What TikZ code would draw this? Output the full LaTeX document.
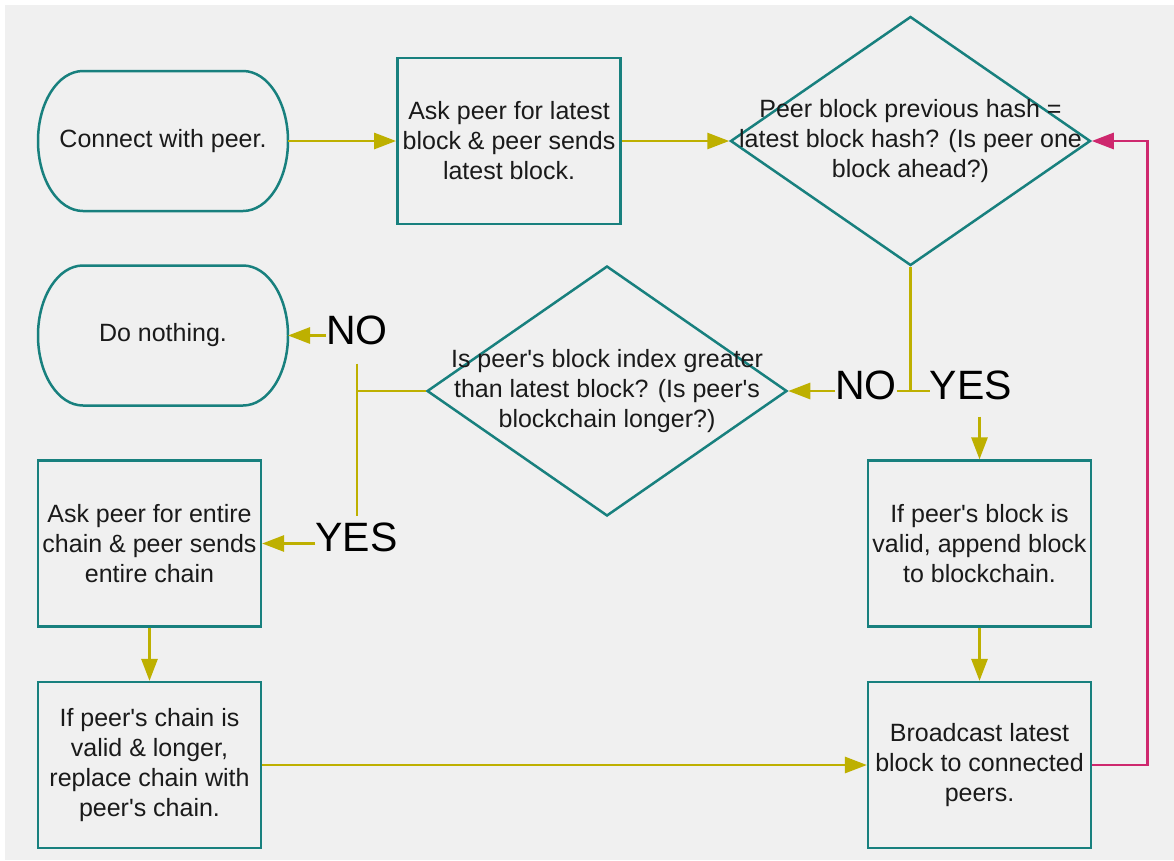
\documentclass[tikz,border=0pt]{standalone}
\usepackage{fontspec}
\setmainfont{Liberation Sans}[Ligatures=TeXOff]
\usetikzlibrary{shapes.geometric,arrows.meta}
\definecolor{bg}{HTML}{F0F0F0}
\definecolor{tealb}{RGB}{24,128,126}
\definecolor{olive}{RGB}{190,176,0}
\definecolor{mag}{RGB}{206,40,110}
\definecolor{txt}{HTML}{1A1A1A}
\begin{document}
\begin{tikzpicture}[x=1pt,y=1pt,
 txtf/.style={font=\fontsize{25}{30}\selectfont, text=txt, align=center},
 boxn/.style={txtf, rectangle, draw=tealb, line width=2.2pt, minimum width=223pt, minimum height=166pt, inner sep=0pt},
 termn/.style={txtf, rectangle, minimum width=250pt, minimum height=140pt, inner sep=0pt, outer sep=0pt},
 decn/.style={diamond, draw=tealb, line width=2.5pt, minimum width=360pt, minimum height=249pt, inner sep=0pt},
 lab/.style={font=\fontsize{41}{41}\selectfont, text=black, inner sep=0pt},
 line/.style={draw=olive, line width=2.8pt},
 arr/.style={line, -{Triangle[length=22pt,width=16pt]}},
 marr/.style={draw=mag, line width=2.8pt, -{Triangle[length=22pt,width=16pt]}},
 bord/.style={draw=tealb, line width=2.5pt}
]
\useasboundingbox (0,0) rectangle (1174,-860);
\fill[white] (0,0) rectangle (1174,-860);
\fill[bg] (5,-5) rectangle (1174,-860);

% nodes
\node[termn] (start) at (163,-141) {Connect with peer.};
\node[boxn, line width=2.8pt] (ask1) at (509,-141) {Ask peer for latest\\block \& peer sends\\latest block.};
\node[decn, label={[txtf]center:{Peer block previous hash =\\latest block hash? (Is peer one\\block ahead?)}}] (d1) at (910.5,-141) {};
\node[termn] (nothing) at (163,-335.5) {Do nothing.};
\node[decn, label={[txtf]center:{Is peer's block index greater\\than latest block? (Is peer's\\blockchain longer?)}}, minimum height=250pt] (d2) at (607,-391) {};
\node[boxn] (askall) at (149.5,-543.5) {Ask peer for entire\\chain \& peer sends\\entire chain};
\node[boxn] (replace) at (149.5,-765) {If peer's chain is\\valid \& longer,\\replace chain with\\peer's chain.};
\node[boxn] (valid) at (979.5,-543.5) {If peer's block is\\valid, append block\\to blockchain.};
\node[boxn] (bcast) at (979.5,-765) {Broadcast latest\\block to connected\\peers.};

% terminator outlines
\foreach \n in {start,nothing}{
  \draw[bord] ([xshift=45pt]\n.north west) -- ([xshift=-45pt]\n.north east)
    arc[start angle=90,end angle=-90,x radius=45pt,y radius=70pt]
    -- ([xshift=45pt]\n.south west)
    arc[start angle=270,end angle=90,x radius=45pt,y radius=70pt] -- cycle;
}

% branch labels
\node[lab] (no1) at (866,-385) {NO};
\node[lab] (yes1) at (971,-385) {YES};
\node[lab] (no2) at (357,-330) {NO};
\node[lab] (yes2) at (356.5,-537) {YES};

% connectors
\draw[arr] (start.east) -- (ask1.west);
\draw[arr] (ask1.east) -- (d1.west);
\coordinate (j1) at (d1.south |- d2.east);
\draw[line] (d1.south) -- (j1);
\draw[line] (no1.east |- j1) -- (yes1.west |- j1);
\draw[arr] (no1.west |- d2.east) -- (d2.east);
\coordinate (y1b) at ([yshift=-17pt]yes1.south);
\draw[arr] (y1b -| valid.north) -- (valid.north);
\coordinate (j2) at (no2 |- d2.west);
\draw[line] (d2.west) -- (j2);
\coordinate (n2b) at ([yshift=-19pt]no2.south);
\coordinate (y2t) at ([yshift=6pt]yes2.north);
\draw[line] (n2b -| j2) -- (y2t -| j2);
\draw[arr] (no2.west |- nothing.east) -- (nothing.east);
\draw[arr] (yes2.west |- askall.east) -- (askall.east);
\draw[arr] (askall.south) -- (replace.north);
\draw[arr] (replace.east) -- (bcast.west);
\draw[arr] (valid.south) -- (bcast.north);
\draw[marr] (bcast.east) -- ++(55,0) |- (d1.east);
\end{tikzpicture}
\end{document}
